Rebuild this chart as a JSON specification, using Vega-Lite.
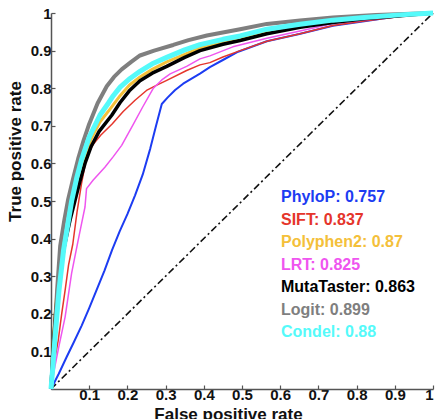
{
"$schema":"https://vega.github.io/schema/vega-lite/v6.json",
"width":382,"height":376,
"autosize":{"type":"none"},
"padding":{"left":51,"top":13,"right":2,"bottom":30},
"background":"white",
"config":{"view":{"stroke":null},"font":"Liberation Sans"},
"datasets":{
"auc":[{"method":"PhyloP","auc":0.757},{"method":"SIFT","auc":0.837},{"method":"Polyphen2","auc":0.87},{"method":"LRT","auc":0.825},{"method":"MutaTaster","auc":0.863},{"method":"Logit","auc":0.899},{"method":"Condel","auc":0.88}],
"curves":[
{"method":"PhyloP","fpr":0,"tpr":0},{"method":"PhyloP","fpr":0.02,"tpr":0.04},{"method":"PhyloP","fpr":0.04,"tpr":0.083},{"method":"PhyloP","fpr":0.06,"tpr":0.125},{"method":"PhyloP","fpr":0.08,"tpr":0.168},{"method":"PhyloP","fpr":0.1,"tpr":0.215},{"method":"PhyloP","fpr":0.12,"tpr":0.265},{"method":"PhyloP","fpr":0.14,"tpr":0.315},{"method":"PhyloP","fpr":0.16,"tpr":0.37},{"method":"PhyloP","fpr":0.18,"tpr":0.42},{"method":"PhyloP","fpr":0.2,"tpr":0.465},{"method":"PhyloP","fpr":0.22,"tpr":0.515},{"method":"PhyloP","fpr":0.24,"tpr":0.57},{"method":"PhyloP","fpr":0.26,"tpr":0.64},{"method":"PhyloP","fpr":0.275,"tpr":0.7},{"method":"PhyloP","fpr":0.29,"tpr":0.758},{"method":"PhyloP","fpr":0.305,"tpr":0.775},{"method":"PhyloP","fpr":0.325,"tpr":0.795},{"method":"PhyloP","fpr":0.346,"tpr":0.812},{"method":"PhyloP","fpr":0.39,"tpr":0.839},{"method":"PhyloP","fpr":0.416,"tpr":0.856},{"method":"PhyloP","fpr":0.45,"tpr":0.875},{"method":"PhyloP","fpr":0.49,"tpr":0.897},{"method":"PhyloP","fpr":0.565,"tpr":0.925},{"method":"PhyloP","fpr":0.65,"tpr":0.944},{"method":"PhyloP","fpr":0.738,"tpr":0.966},{"method":"PhyloP","fpr":0.82,"tpr":0.978},{"method":"PhyloP","fpr":0.9,"tpr":0.99},{"method":"PhyloP","fpr":0.95,"tpr":0.996},{"method":"PhyloP","fpr":1,"tpr":1},
{"method":"SIFT","fpr":0,"tpr":0},{"method":"SIFT","fpr":0.003,"tpr":0.02},{"method":"SIFT","fpr":0.006,"tpr":0.042},{"method":"SIFT","fpr":0.012,"tpr":0.09},{"method":"SIFT","fpr":0.019,"tpr":0.13},{"method":"SIFT","fpr":0.028,"tpr":0.2},{"method":"SIFT","fpr":0.037,"tpr":0.263},{"method":"SIFT","fpr":0.046,"tpr":0.33},{"method":"SIFT","fpr":0.057,"tpr":0.385},{"method":"SIFT","fpr":0.068,"tpr":0.47},{"method":"SIFT","fpr":0.08,"tpr":0.547},{"method":"SIFT","fpr":0.09,"tpr":0.6},{"method":"SIFT","fpr":0.098,"tpr":0.626},{"method":"SIFT","fpr":0.11,"tpr":0.65},{"method":"SIFT","fpr":0.13,"tpr":0.675},{"method":"SIFT","fpr":0.16,"tpr":0.705},{"method":"SIFT","fpr":0.189,"tpr":0.738},{"method":"SIFT","fpr":0.22,"tpr":0.768},{"method":"SIFT","fpr":0.25,"tpr":0.794},{"method":"SIFT","fpr":0.277,"tpr":0.808},{"method":"SIFT","fpr":0.303,"tpr":0.821},{"method":"SIFT","fpr":0.355,"tpr":0.847},{"method":"SIFT","fpr":0.39,"tpr":0.862},{"method":"SIFT","fpr":0.416,"tpr":0.868},{"method":"SIFT","fpr":0.45,"tpr":0.883},{"method":"SIFT","fpr":0.49,"tpr":0.898},{"method":"SIFT","fpr":0.565,"tpr":0.925},{"method":"SIFT","fpr":0.652,"tpr":0.945},{"method":"SIFT","fpr":0.738,"tpr":0.967},{"method":"SIFT","fpr":0.82,"tpr":0.979},{"method":"SIFT","fpr":0.914,"tpr":0.991},{"method":"SIFT","fpr":1,"tpr":1},
{"method":"LRT","fpr":0,"tpr":0},{"method":"LRT","fpr":0.005,"tpr":0.03},{"method":"LRT","fpr":0.01,"tpr":0.059},{"method":"LRT","fpr":0.02,"tpr":0.11},{"method":"LRT","fpr":0.037,"tpr":0.192},{"method":"LRT","fpr":0.054,"tpr":0.308},{"method":"LRT","fpr":0.07,"tpr":0.39},{"method":"LRT","fpr":0.08,"tpr":0.44},{"method":"LRT","fpr":0.089,"tpr":0.484},{"method":"LRT","fpr":0.093,"tpr":0.533},{"method":"LRT","fpr":0.11,"tpr":0.555},{"method":"LRT","fpr":0.141,"tpr":0.59},{"method":"LRT","fpr":0.163,"tpr":0.618},{"method":"LRT","fpr":0.185,"tpr":0.648},{"method":"LRT","fpr":0.215,"tpr":0.703},{"method":"LRT","fpr":0.24,"tpr":0.75},{"method":"LRT","fpr":0.268,"tpr":0.8},{"method":"LRT","fpr":0.29,"tpr":0.822},{"method":"LRT","fpr":0.312,"tpr":0.838},{"method":"LRT","fpr":0.355,"tpr":0.858},{"method":"LRT","fpr":0.39,"tpr":0.878},{"method":"LRT","fpr":0.416,"tpr":0.886},{"method":"LRT","fpr":0.476,"tpr":0.91},{"method":"LRT","fpr":0.565,"tpr":0.933},{"method":"LRT","fpr":0.652,"tpr":0.952},{"method":"LRT","fpr":0.738,"tpr":0.972},{"method":"LRT","fpr":0.826,"tpr":0.982},{"method":"LRT","fpr":0.914,"tpr":0.993},{"method":"LRT","fpr":1,"tpr":1},
{"method":"Polyphen2","fpr":0,"tpr":0},{"method":"Polyphen2","fpr":0.005,"tpr":0.11},{"method":"Polyphen2","fpr":0.012,"tpr":0.22},{"method":"Polyphen2","fpr":0.022,"tpr":0.32},{"method":"Polyphen2","fpr":0.035,"tpr":0.4},{"method":"Polyphen2","fpr":0.05,"tpr":0.47},{"method":"Polyphen2","fpr":0.063,"tpr":0.52},{"method":"Polyphen2","fpr":0.075,"tpr":0.57},{"method":"Polyphen2","fpr":0.089,"tpr":0.62},{"method":"Polyphen2","fpr":0.105,"tpr":0.665},{"method":"Polyphen2","fpr":0.128,"tpr":0.71},{"method":"Polyphen2","fpr":0.155,"tpr":0.745},{"method":"Polyphen2","fpr":0.181,"tpr":0.78},{"method":"Polyphen2","fpr":0.205,"tpr":0.808},{"method":"Polyphen2","fpr":0.233,"tpr":0.83},{"method":"Polyphen2","fpr":0.265,"tpr":0.85},{"method":"Polyphen2","fpr":0.303,"tpr":0.87},{"method":"Polyphen2","fpr":0.35,"tpr":0.89},{"method":"Polyphen2","fpr":0.39,"tpr":0.907},{"method":"Polyphen2","fpr":0.45,"tpr":0.923},{"method":"Polyphen2","fpr":0.495,"tpr":0.933},{"method":"Polyphen2","fpr":0.565,"tpr":0.95},{"method":"Polyphen2","fpr":0.652,"tpr":0.965},{"method":"Polyphen2","fpr":0.738,"tpr":0.977},{"method":"Polyphen2","fpr":0.82,"tpr":0.986},{"method":"Polyphen2","fpr":0.914,"tpr":0.994},{"method":"Polyphen2","fpr":1,"tpr":1},
{"method":"MutaTaster","fpr":0,"tpr":0},{"method":"MutaTaster","fpr":0.005,"tpr":0.1},{"method":"MutaTaster","fpr":0.012,"tpr":0.2},{"method":"MutaTaster","fpr":0.022,"tpr":0.3},{"method":"MutaTaster","fpr":0.035,"tpr":0.38},{"method":"MutaTaster","fpr":0.05,"tpr":0.45},{"method":"MutaTaster","fpr":0.063,"tpr":0.502},{"method":"MutaTaster","fpr":0.075,"tpr":0.55},{"method":"MutaTaster","fpr":0.089,"tpr":0.6},{"method":"MutaTaster","fpr":0.105,"tpr":0.645},{"method":"MutaTaster","fpr":0.126,"tpr":0.685},{"method":"MutaTaster","fpr":0.159,"tpr":0.728},{"method":"MutaTaster","fpr":0.181,"tpr":0.762},{"method":"MutaTaster","fpr":0.205,"tpr":0.793},{"method":"MutaTaster","fpr":0.233,"tpr":0.82},{"method":"MutaTaster","fpr":0.265,"tpr":0.84},{"method":"MutaTaster","fpr":0.303,"tpr":0.858},{"method":"MutaTaster","fpr":0.35,"tpr":0.882},{"method":"MutaTaster","fpr":0.39,"tpr":0.9},{"method":"MutaTaster","fpr":0.45,"tpr":0.917},{"method":"MutaTaster","fpr":0.495,"tpr":0.927},{"method":"MutaTaster","fpr":0.565,"tpr":0.945},{"method":"MutaTaster","fpr":0.652,"tpr":0.962},{"method":"MutaTaster","fpr":0.738,"tpr":0.975},{"method":"MutaTaster","fpr":0.82,"tpr":0.985},{"method":"MutaTaster","fpr":0.914,"tpr":0.993},{"method":"MutaTaster","fpr":1,"tpr":1},
{"method":"Logit","fpr":0,"tpr":0},{"method":"Logit","fpr":0.004,"tpr":0.06},{"method":"Logit","fpr":0.009,"tpr":0.13},{"method":"Logit","fpr":0.016,"tpr":0.263},{"method":"Logit","fpr":0.024,"tpr":0.38},{"method":"Logit","fpr":0.035,"tpr":0.45},{"method":"Logit","fpr":0.045,"tpr":0.505},{"method":"Logit","fpr":0.058,"tpr":0.56},{"method":"Logit","fpr":0.071,"tpr":0.612},{"method":"Logit","fpr":0.085,"tpr":0.66},{"method":"Logit","fpr":0.1,"tpr":0.705},{"method":"Logit","fpr":0.122,"tpr":0.76},{"method":"Logit","fpr":0.146,"tpr":0.805},{"method":"Logit","fpr":0.165,"tpr":0.83},{"method":"Logit","fpr":0.185,"tpr":0.85},{"method":"Logit","fpr":0.21,"tpr":0.87},{"method":"Logit","fpr":0.233,"tpr":0.887},{"method":"Logit","fpr":0.27,"tpr":0.9},{"method":"Logit","fpr":0.32,"tpr":0.915},{"method":"Logit","fpr":0.36,"tpr":0.928},{"method":"Logit","fpr":0.408,"tpr":0.94},{"method":"Logit","fpr":0.495,"tpr":0.957},{"method":"Logit","fpr":0.565,"tpr":0.971},{"method":"Logit","fpr":0.652,"tpr":0.98},{"method":"Logit","fpr":0.738,"tpr":0.988},{"method":"Logit","fpr":0.85,"tpr":0.995},{"method":"Logit","fpr":1,"tpr":1},
{"method":"Condel","fpr":0,"tpr":0},{"method":"Condel","fpr":0.005,"tpr":0.06},{"method":"Condel","fpr":0.01,"tpr":0.13},{"method":"Condel","fpr":0.021,"tpr":0.263},{"method":"Condel","fpr":0.033,"tpr":0.37},{"method":"Condel","fpr":0.054,"tpr":0.5},{"method":"Condel","fpr":0.067,"tpr":0.56},{"method":"Condel","fpr":0.08,"tpr":0.61},{"method":"Condel","fpr":0.1,"tpr":0.67},{"method":"Condel","fpr":0.128,"tpr":0.728},{"method":"Condel","fpr":0.15,"tpr":0.76},{"method":"Condel","fpr":0.163,"tpr":0.78},{"method":"Condel","fpr":0.181,"tpr":0.803},{"method":"Condel","fpr":0.207,"tpr":0.826},{"method":"Condel","fpr":0.233,"tpr":0.845},{"method":"Condel","fpr":0.265,"tpr":0.865},{"method":"Condel","fpr":0.303,"tpr":0.882},{"method":"Condel","fpr":0.35,"tpr":0.902},{"method":"Condel","fpr":0.39,"tpr":0.916},{"method":"Condel","fpr":0.45,"tpr":0.93},{"method":"Condel","fpr":0.495,"tpr":0.939},{"method":"Condel","fpr":0.565,"tpr":0.957},{"method":"Condel","fpr":0.652,"tpr":0.97},{"method":"Condel","fpr":0.738,"tpr":0.981},{"method":"Condel","fpr":0.82,"tpr":0.988},{"method":"Condel","fpr":0.914,"tpr":0.995},{"method":"Condel","fpr":1,"tpr":1}
]},
"encoding":{
"x":{"field":"fpr","type":"quantitative","scale":{"domain":[0,1],"nice":false,"zero":false},
"axis":{"values":[0.1,0.2,0.3,0.4,0.5,0.6,0.7,0.8,0.9,1],"format":".1~f","title":"False positive rate","grid":false,
"domainColor":"#555","domainWidth":1.5,"tickColor":"#555","tickWidth":1.2,"tickSize":-4,"labelPadding":2,
"labelFont":"Liberation Sans","labelFontSize":15,"labelFontWeight":"bold","labelColor":"#111",
"titleFont":"Liberation Sans","titleFontSize":17,"titleFontWeight":"bold","titleColor":"#111",
"titleX":177,"titleY":30,"titleBaseline":"alphabetic","titleAlign":"center","titleAnchor":"start"}},
"y":{"field":"tpr","type":"quantitative","scale":{"domain":[0,1],"nice":false,"zero":false},
"axis":{"values":[0.1,0.2,0.3,0.4,0.5,0.6,0.7,0.8,0.9,1],"format":".1~f","title":"True positive rate","grid":false,
"domainColor":"#555","domainWidth":1.5,"tickColor":"#555","tickWidth":1.2,"tickSize":-4,"labelPadding":4,
"labelFont":"Liberation Sans","labelFontSize":15,"labelFontWeight":"bold","labelColor":"#111",
"titleFont":"Liberation Sans","titleFontSize":17,"titleFontWeight":"bold","titleColor":"#111",
"titleX":-36,"titleY":138,"titleAngle":-90,"titleBaseline":"middle","titleAlign":"center","titleAnchor":"start"}}
},
"layer":[
{"data":{"values":[{"fpr":0,"tpr":0},{"fpr":1,"tpr":1}]},
"mark":{"type":"line","color":"#111","strokeWidth":1.6,"strokeDash":[7,3,2,3]}},
{"data":{"name":"curves"},
"transform":[{"lookup":"method","from":{"data":{"name":"auc"},"key":"method","fields":["auc"]}},{"calculate":"datum.method + ': ' + datum.auc","as":"label"}],
"encoding":{
"color":{"field":"label","type":"nominal",
"scale":{"domain":["PhyloP: 0.757","SIFT: 0.837","Polyphen2: 0.87","LRT: 0.825","MutaTaster: 0.863","Logit: 0.899","Condel: 0.88"],
"range":["#1c3cf2","#e5352b","#f4c03a","#ef55ef","#000000","#7f7f7f","#55fafa"]},
"legend":{"orient":"none","legendX":214,"legendY":176,"title":null,"padding":0,"symbolSize":0,"symbolStrokeWidth":0,"symbolOpacity":0,"labelOffset":0,"rowPadding":6.5,
"labelFont":"Liberation Sans","labelFontSize":16,"labelFontWeight":"bold","labelLimit":300,
"encode":{"labels":{"update":{"fill":{"scale":"color","field":"value"}}}}}},
"order":{"field":"fpr","type":"quantitative"}
},
"layer":[
{"transform":[{"filter":"datum.method === 'PhyloP'"}],"mark":{"type":"line","strokeWidth":2,"strokeJoin":"round"}},
{"transform":[{"filter":"datum.method === 'SIFT'"}],"mark":{"type":"line","strokeWidth":1.5,"strokeJoin":"round"}},
{"transform":[{"filter":"datum.method === 'LRT'"}],"mark":{"type":"line","strokeWidth":1.5,"strokeJoin":"round"}},
{"transform":[{"filter":"datum.method === 'Polyphen2'"}],"mark":{"type":"line","strokeWidth":3,"strokeJoin":"round"}},
{"transform":[{"filter":"datum.method === 'MutaTaster'"}],"mark":{"type":"line","strokeWidth":3.5,"strokeJoin":"round"}},
{"transform":[{"filter":"datum.method === 'Logit'"}],"mark":{"type":"line","strokeWidth":4,"strokeJoin":"round"}},
{"transform":[{"filter":"datum.method === 'Condel'"}],"mark":{"type":"line","strokeWidth":5,"strokeJoin":"round"}}
]}
]
}
